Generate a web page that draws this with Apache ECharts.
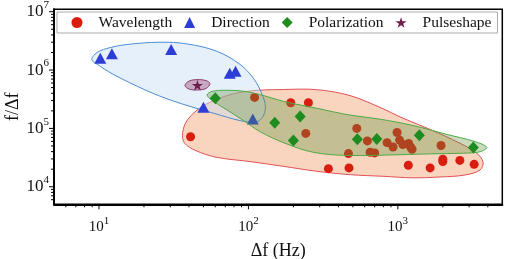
<!DOCTYPE html>
<html><head><meta charset="utf-8">
<script src="https://cdn.jsdelivr.net/npm/echarts@6/dist/echarts.min.js"></script>
<style>html,body{margin:0;padding:0;background:#fff}#c{width:505px;height:259px}</style>
</head><body><div id="c"></div>
<script>
const X_RANGE = [5, 5000];
const Y_RANGE = [5000, 1.1e7];
const xMajorTicks = [10, 100, 1000];
const yMajorTicks = [1e4, 1e5, 1e6, 1e7];
const xMinorTicks = [6,7,8,9,20,30,40,50,60,70,80,90,200,300,400,500,600,700,800,900,2000,3000,4000];
const yMinorTicks = [6000,7000,8000,9000,2e4,3e4,4e4,5e4,6e4,7e4,8e4,9e4,2e5,3e5,4e5,5e5,6e5,7e5,8e5,9e5,2e6,3e6,4e6,5e6,6e6,7e6,8e6,9e6];
const seriesNames = ['Wavelength','Direction','Polarization','Pulseshape'];

const wavelength = [[41,7.2e4],[110,3.4e5],[192,2.75e5],[252,2.75e5],[242,8.2e4],[531,1.0e5],[625,6.1e4],[467,3.7e4],[652,3.9e4],[700,3.8e4],
  [988,8.5e4],[847,5.7e4],[929,4.8e4],[1027,6.3e4],[1079,5.3e4],[1180,5.5e4],[1216,4.8e4],[1245,4.4e4],[1945,5.1e4],
  [343,2.04e4],[471,2.1e4],[1175,2.33e4],[1644,2.1e4],[2000,2.97e4],[2000,2.7e4],[2600,2.83e4],[3240,2.42e4]];
const direction = [[10.2,1.6e6],[12.2,1.9e6],[30.4,2.25e6],[75,8.8e5],[82,9.5e5],[50,2.3e5],[107,1.45e5]];
const polarization = [[60,3.3e5],[150,1.25e5],[200,6.2e4],[222,1.6e5],[536,6.5e4],[723,6.6e4],[1393,7.6e4],[3200,4.7e4]];
const pulseshape = [[45.6,5.5e5]];

const redRegion = [[36.2,7.57e4],[37.8,1.21e5],[42.6,1.79e5],[51.3,2.54e5],[71.6,3.64e5],[102.5,4.38e5],[171,4.64e5],[287,4.61e5],[479,3.65e5],[797,2.17e5],[1035,1.57e5],[1643,9.6e4],[2610,5.55e4],[3375,3.76e4],[3718,2.64e4],[3550,1.94e4],[2820,1.59e4],[1919,1.47e4],[1265,1.42e4],[797,1.51e4],[479,1.61e4],[287,1.84e4],[171,2.24e4],[102.5,2.7e4],[60.7,3.21e4],[43.9,4.22e4],[37.5,5.55e4]];
const blueRegion = [[8.94,1.52e6],[9.7,2.0e6],[11.9,2.43e6],[15.3,2.74e6],[25.6,3.0e6],[38.7,2.81e6],[61.4,2.1e6],[87.9,1.25e6],[109,7.0e5],[123,3.9e5],[130,2.35e5],[124,1.53e5],[111,1.28e5],[87.9,1.36e5],[59.8,1.79e5],[42.6,2.3e5],[29.9,3.08e5],[20.9,4.43e5],[12.4,8.5e5],[9.55,1.3e6]];
const greenRegion = [[52.9,3.75e5],[57.1,4.3e5],[69.8,4.5e5],[94.9,4.3e5],[129,3.6e5],[171,2.91e5],[287,2.21e5],[479,1.69e5],[760,1.44e5],[1265,1.12e5],[2136,7.87e4],[3237,6.0e4],[3937,4.75e4],[3550,3.98e4],[2733,3.76e4],[1643,3.66e4],[1035,3.54e4],[455,3.44e4],[271,3.9e4],[176,5.55e4],[120,8.75e4],[92,1.38e5],[69.8,2.17e5],[57.1,3.03e5]];
const purpleRegion = [[37.6,5.42e5],[40.05,6.47e5],[45.3,6.85e5],[52.0,6.6e5],[55.3,5.86e5],[52.0,4.83e5],[45.3,4.55e5],[40.05,4.73e5]];

const FONT = "'Liberation Serif','Times New Roman',serif";
const STAR = 'path://M50 0 L61.23 34.55 L97.55 34.55 L68.16 55.9 L79.39 90.45 L50 69.1 L20.61 90.45 L31.84 55.9 L2.45 34.55 L38.77 34.55 Z';

function isMajor(v, list){ return list.some(t => Math.abs(Math.log10(v) - Math.log10(t)) < 1e-6); }
function supLabel(list){ return function(v){ if(!isMajor(v, list)) return ''; return '{b|10}{s|' + Math.round(Math.log10(v)) + '}'; }; }

function region(name, pts, fill, stroke, z){
  return {type:'custom', name, silent:true, data: pts, z,
    renderItem(params, api){
      if (params.dataIndex !== 0) return null;
      return {type:'polygon', shape:{points: pts.map(p => api.coord(p)), smooth:0.35},
        style:{fill, stroke, lineWidth:1}};
    }};
}
function ticks(vals, axis, len){
  return {type:'custom', silent:true, clip:false, z:9,
    data: vals.map(v => axis === 'x' ? [v, Y_RANGE[0]] : [X_RANGE[0], v]),
    renderItem(params, api){
      const p = api.coord([api.value(0), api.value(1)]);
      const s = axis === 'x' ? {x1:p[0], y1:p[1], x2:p[0], y2:p[1]+len} : {x1:p[0]-len, y1:p[1], x2:p[0], y2:p[1]};
      return {type:'line', shape:s, style:{stroke:'#000', lineWidth:1}};
    }};
}
function rich(size){ return {
  b:{fontFamily:FONT, fontSize:size, color:'#111', lineHeight:24, verticalAlign:'middle'},
  s:{fontFamily:FONT, fontSize:11, color:'#111', lineHeight:11, verticalAlign:'top'}
}; }
const chart = echarts.init(document.getElementById('c'), null, {renderer:'canvas'});
chart.setOption({
  animation:false,
  grid:{left:54, top:9.3, width:448.3, height:195, show:true, borderColor:'#000', borderWidth:1.5, backgroundColor:'transparent', outerBoundsMode:'none', containLabel:false},
  legend:{data:seriesNames, left:57, top:12, z:20, itemWidth:11, itemHeight:11, itemGap:12,
    padding:[2.5,6,2.5,14.5], borderColor:'#aaa', borderWidth:1, backgroundColor:'#fff', selectedMode:false,
    textStyle:{fontFamily:FONT, fontSize:15.5, color:'#111', padding:[0,0,0,11]}},
  xAxis:{type:'log', min:X_RANGE[0], max:X_RANGE[1], logBase:10,
    name:'Δf (Hz)', nameLocation:'middle', nameGap:38, nameTextStyle:{fontFamily:FONT, fontSize:18, color:'#111'},
    axisLine:{lineStyle:{color:'#000', width:2}}, axisTick:{show:false}, splitLine:{show:false}, minorTick:{show:false},
    axisLabel:{margin:11, formatter:supLabel(xMajorTicks), rich:rich(15)}},
  yAxis:{type:'log', min:Y_RANGE[0], max:Y_RANGE[1], logBase:10,
    name:'f/Δf', nameLocation:'middle', nameGap:32, nameMoveOverlap:false, nameTextStyle:{fontFamily:FONT, fontSize:18, color:'#111'},
    axisLine:{lineStyle:{color:'#000', width:2}}, axisTick:{show:false}, splitLine:{show:false}, minorTick:{show:false},
    axisLabel:{margin:5, formatter:supLabel(yMajorTicks), rich:rich(17)}},
  series:[
    region('redRegion', redRegion, 'rgba(244,170,125,0.5)', '#e05055', 1),
    region('blueRegion', blueRegion, 'rgba(200,222,245,0.45)', '#4a8cd2', 1.5),
    {type:'scatter', name:'Wavelength', data:wavelength, symbol:'circle', symbolSize:9, itemStyle:{color:'#d91e10', opacity:1}, z:2},
    {type:'scatter', name:'Direction', data:direction, symbol:'triangle', symbolSize:[12,11], itemStyle:{color:'#2c3ed6', opacity:1}, z:2.5},
    region('greenRegion', greenRegion, 'rgba(90,145,60,0.33)', '#4caa45', 3),
    {type:'scatter', name:'Polarization', data:polarization, symbol:'diamond', symbolSize:[11,12], itemStyle:{color:'#1e8c1e', opacity:1}, z:4},
    region('purpleRegion', purpleRegion, 'rgba(150,60,110,0.4)', '#8a3a6a', 5),
    {type:'scatter', name:'Pulseshape', data:pulseshape, symbol:STAR, symbolKeepAspect:true, symbolSize:11, itemStyle:{color:'#6e1e4a', opacity:1}, z:6},
    ticks(xMajorTicks, 'x', 5), ticks(xMinorTicks, 'x', 3),
    ticks(yMajorTicks, 'y', 5), ticks(yMinorTicks, 'y', 3)
  ]
});
</script></body></html>
